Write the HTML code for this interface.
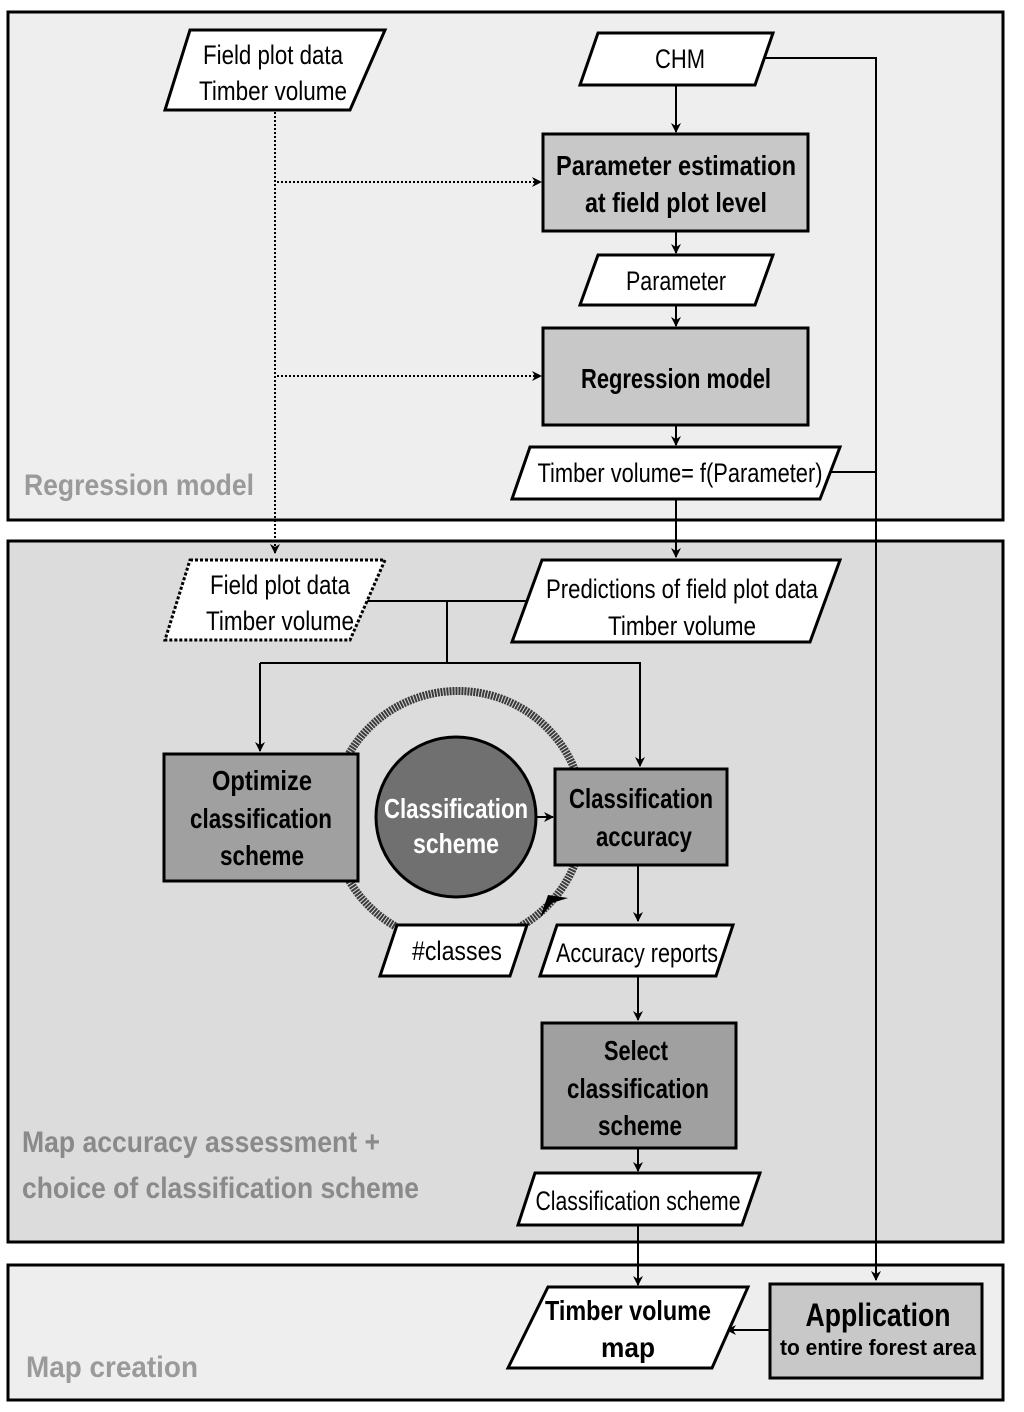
<!DOCTYPE html>
<html><head><meta charset="utf-8"><style>
html,body{margin:0;padding:0;background:#fff}
svg{display:block}
text{font-family:"Liberation Sans",sans-serif;}
</style></head><body>
<svg width="1024" height="1412" viewBox="0 0 1024 1412" xmlns="http://www.w3.org/2000/svg">
<defs>
<marker id="a" markerWidth="10" markerHeight="10" refX="9" refY="5" orient="auto" markerUnits="userSpaceOnUse">
<path d="M0,0 L10,5 L0,10 L3,5 Z" fill="#000"/></marker>
</defs>
<rect x="8" y="12" width="995" height="508" fill="#eeeeee" stroke="#000" stroke-width="3"/>
<rect x="8" y="541" width="995" height="701" fill="#dcdcdc" stroke="#000" stroke-width="3"/>
<rect x="8" y="1265" width="995" height="135" fill="#eeeeee" stroke="#000" stroke-width="3"/>

<g font-weight="bold" fill="#9a9a9a" font-size="30">
<text x="24" y="495" textLength="230" lengthAdjust="spacingAndGlyphs">Regression model</text>
<text x="22" y="1152" textLength="358" lengthAdjust="spacingAndGlyphs" fill="#8a8a8a">Map accuracy assessment +</text>
<text x="22" y="1198" textLength="397" lengthAdjust="spacingAndGlyphs" fill="#8a8a8a">choice of classification scheme</text>
<text x="26" y="1377" textLength="172" lengthAdjust="spacingAndGlyphs">Map creation</text>
</g>

<g stroke="#000" stroke-width="2" fill="none">
<path d="M275,112 V553" stroke-dasharray="2,2" marker-end="url(#a)"/>
<path d="M277,182 H541" stroke-dasharray="2,2" marker-end="url(#a)"/>
<path d="M277,376 H541" stroke-dasharray="2,2" marker-end="url(#a)"/>
<path d="M762,58 H876 V1280" marker-end="url(#a)"/>
<path d="M830,472 H876"/>
<path d="M676,86 V132" marker-end="url(#a)"/>
<path d="M676,232 V253" marker-end="url(#a)"/>
<path d="M676,306 V326" marker-end="url(#a)"/>
<path d="M676,426 V445" marker-end="url(#a)"/>
<path d="M676,500 V557" marker-end="url(#a)"/>
<path d="M360,601 H530"/>
<path d="M447,601 V663"/>
<path d="M260,663 H640 V766" marker-end="url(#a)"/>
<path d="M260,663 V751" marker-end="url(#a)"/>
<path d="M536,817 H553" marker-end="url(#a)"/>
<path d="M638,866 V921" marker-end="url(#a)"/>
<path d="M638,977 V1020" marker-end="url(#a)"/>
<path d="M638,1149 V1171" marker-end="url(#a)"/>
<path d="M638,1226 V1285" marker-end="url(#a)"/>
<path d="M770,1330 H727" marker-end="url(#a)"/>
</g>

<circle cx="458" cy="817" r="126" fill="none" stroke="#3a3a3a" stroke-width="8" stroke-dasharray="2,1"/>
<path d="M568,898 L552,903 L540,918 L548,895 Z" fill="#000"/>

<g stroke="#000" stroke-width="3">
<polygon points="190,30 385,30 350,110 165,110" fill="#fff"/>
<polygon points="598,33 773,33 755,85 580,85" fill="#fff"/>
<rect x="543" y="134" width="265" height="97" fill="#c8c8c8"/>
<polygon points="598,255 773,255 755,305 580,305" fill="#fff"/>
<rect x="543" y="328" width="265" height="97" fill="#c8c8c8"/>
<polygon points="530,447 840,447 820,499 512,499" fill="#fff"/>
<polygon points="190,560 385,560 350,640 165,640" fill="#fff" stroke-dasharray="3,2"/>
<polygon points="542,560 840,560 810,642 512,642" fill="#fff"/>
<rect x="164" y="754" width="194" height="127" fill="#a0a0a0"/>
<circle cx="456" cy="817" r="80" fill="#707070"/>
<rect x="555" y="769" width="172" height="96" fill="#a0a0a0"/>
<polygon points="397,925 527,925 510,976 380,976" fill="#fff"/>
<polygon points="557,925 733,925 716,976 540,976" fill="#fff"/>
<rect x="542" y="1023" width="194" height="125" fill="#a0a0a0"/>
<polygon points="535,1173 760,1173 742,1225 518,1225" fill="#fff"/>
<polygon points="548,1287 748,1287 712,1368 508,1368" fill="#fff"/>
<rect x="770" y="1284" width="212" height="94" fill="#c8c8c8"/>
</g>

<g font-size="27" text-anchor="middle" fill="#000">
<text x="273" y="64" textLength="140" lengthAdjust="spacingAndGlyphs">Field plot data</text>
<text x="273" y="100" textLength="148" lengthAdjust="spacingAndGlyphs">Timber volume</text>
<text x="680" y="68" textLength="50" lengthAdjust="spacingAndGlyphs">CHM</text>
<text x="676" y="290" textLength="100" lengthAdjust="spacingAndGlyphs">Parameter</text>
<text x="680" y="482" textLength="285" lengthAdjust="spacingAndGlyphs">Timber volume= f(Parameter)</text>
<text x="280" y="594" textLength="140" lengthAdjust="spacingAndGlyphs">Field plot data</text>
<text x="280" y="630" textLength="148" lengthAdjust="spacingAndGlyphs">Timber volume</text>
<text x="682" y="598" textLength="272" lengthAdjust="spacingAndGlyphs">Predictions of field plot data</text>
<text x="682" y="635" textLength="148" lengthAdjust="spacingAndGlyphs">Timber volume</text>
<text x="457" y="960" textLength="90" lengthAdjust="spacingAndGlyphs">#classes</text>
<text x="637" y="962" textLength="162" lengthAdjust="spacingAndGlyphs">Accuracy reports</text>
<text x="638" y="1210" textLength="205" lengthAdjust="spacingAndGlyphs">Classification scheme</text>
</g>
<g font-size="28" font-weight="bold" text-anchor="middle" fill="#000">
<text x="676" y="175" textLength="240" lengthAdjust="spacingAndGlyphs">Parameter estimation</text>
<text x="676" y="212" textLength="182" lengthAdjust="spacingAndGlyphs">at field plot level</text>
<text x="676" y="388" textLength="190" lengthAdjust="spacingAndGlyphs">Regression model</text>
<text x="262" y="790" textLength="100" lengthAdjust="spacingAndGlyphs">Optimize</text>
<text x="261" y="828" textLength="142" lengthAdjust="spacingAndGlyphs">classification</text>
<text x="262" y="865" textLength="84" lengthAdjust="spacingAndGlyphs">scheme</text>
<text x="641" y="808" textLength="144" lengthAdjust="spacingAndGlyphs">Classification</text>
<text x="644" y="846" textLength="96" lengthAdjust="spacingAndGlyphs">accuracy</text>
<text x="636" y="1060" textLength="64" lengthAdjust="spacingAndGlyphs">Select</text>
<text x="638" y="1098" textLength="142" lengthAdjust="spacingAndGlyphs">classification</text>
<text x="640" y="1135" textLength="84" lengthAdjust="spacingAndGlyphs">scheme</text>
<text x="628" y="1320" textLength="166" lengthAdjust="spacingAndGlyphs">Timber volume</text>
<text x="628" y="1357" textLength="54" lengthAdjust="spacingAndGlyphs">map</text>
<text x="878" y="1326" font-size="32" textLength="145" lengthAdjust="spacingAndGlyphs">Application</text>
<text x="878" y="1355" font-size="22" textLength="196" lengthAdjust="spacingAndGlyphs">to entire forest area</text>
<text x="456" y="818" fill="#fff" textLength="144" lengthAdjust="spacingAndGlyphs">Classification</text>
<text x="456" y="853" fill="#fff" textLength="86" lengthAdjust="spacingAndGlyphs">scheme</text>
</g>
</svg>
</body></html>
